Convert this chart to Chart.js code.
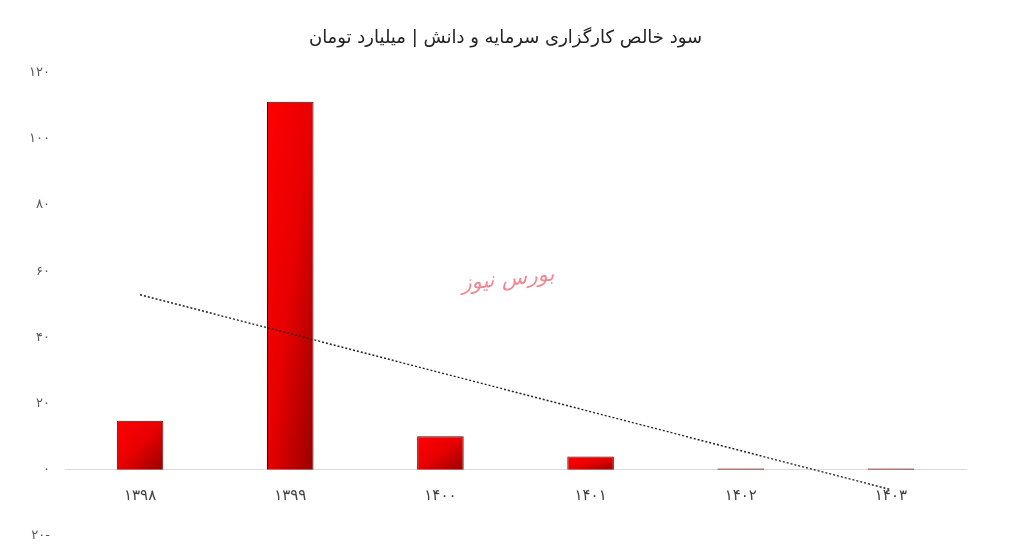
<!DOCTYPE html>
<html>
<head>
<meta charset="utf-8">
<script src="https://cdn.jsdelivr.net/npm/chart.js@4.4.1/dist/chart.umd.min.js"></script>
<style>
  html, body { margin: 0; padding: 0; background: #fff; }
  #wrap { width: 1011px; height: 559px; }
</style>
</head>
<body>
<div id="wrap"><canvas id="c"></canvas></div>
<script>
const years = ["۱۳۹۸", "۱۳۹۹", "۱۴۰۰", "۱۴۰۱", "۱۴۰۲", "۱۴۰۳"];
const profit = [14.8, 111.2, 10.1, 4.0, 0.4, 0.4];
// dotted trend line, read at its two ends
const trend = [52.9, null, null, null, null, -6.0];
const yTicks = [120, 100, 80, 60, 40, 20, 0, -20];

const titleText = "سود خالص کارگزاری سرمایه و دانش | میلیارد تومان";
const markText = "بورس نیوز";

const faDigits = "۰۱۲۳۴۵۶۷۸۹";
function fa(n) {
  const s = String(Math.abs(n)).replace(/\d/g, (d) => faDigits[+d]);
  return n < 0 ? s + "-" : s;
}

const barPct = 0.31;

// corner to corner red gradient per bar (top-left light, bottom-right dark)
function barFill(ctx) {
  const chart = ctx.chart;
  const xs = chart.scales.x;
  const ys = chart.scales.y;
  if (!xs || !ys || ctx.type !== "data") return "#ee0000";
  const cx = xs.getPixelForValue(ctx.dataIndex);
  const w = (xs.width / years.length) * barPct;
  const top = ys.getPixelForValue(ctx.raw);
  const base = ys.getPixelForValue(0);
  if (!isFinite(cx) || !isFinite(top)) return "#ee0000";
  const h = Math.max(base - top, 1);
  const cy = (top + base) / 2;
  const L = Math.sqrt(w * w + h * h);
  const dx = h / L, dy = w / L;
  const r = (w * h) / L;
  const g = chart.ctx.createLinearGradient(cx - dx * r, cy - dy * r, cx + dx * r, cy + dy * r);
  g.addColorStop(0, "#ff0000");
  g.addColorStop(0.5, "#e80000");
  g.addColorStop(1, "#990000");
  return g;
}

const watermark = {
  id: "watermark",
  afterDraw(chart) {
    const ctx = chart.ctx;
    ctx.save();
    ctx.translate(508, 280);
    ctx.rotate(-0.1);
    ctx.font = "italic 21px 'DejaVu Serif', serif";
    ctx.fillStyle = "rgba(232, 96, 110, 0.75)";
    ctx.textAlign = "center";
    ctx.textBaseline = "middle";
    ctx.fillText(markText, 0, 0);
    ctx.restore();
  },
};

new Chart(document.getElementById("c"), {
  type: "bar",
  data: {
    labels: years,
    datasets: [
      {
        type: "bar",
        data: profit,
        backgroundColor: barFill,
        borderColor: "#2a1414",
        borderWidth: 1,
        barPercentage: barPct,
        categoryPercentage: 1,
        order: 2,
      },
      {
        type: "line",
        data: trend,
        spanGaps: true,
        borderColor: "#222",
        borderWidth: 1.4,
        borderDash: [2, 2],
        pointRadius: 0,
        fill: false,
        order: 1,
      },
    ],
  },
  options: {
    responsive: true,
    maintainAspectRatio: false,
    animation: false,
    layout: { padding: { left: 0, right: 0, top: 0, bottom: 23 } },
    plugins: {
      legend: { display: false },
      tooltip: { enabled: false },
      title: {
        display: true,
        text: titleText,
        color: "#222",
        font: { family: "'DejaVu Sans', sans-serif", size: 18, weight: "normal", lineHeight: 1.2 },
        padding: { top: 28, bottom: 23 },
      },
    },
    scales: {
      x: {
        position: { y: 0 },
        grid: { display: false, drawTicks: false },
        border: { display: true, color: "#d9d9d9", width: 1 },
        ticks: {
          color: "#404040",
          padding: 17,
          font: { family: "'DejaVu Sans', sans-serif", size: 15 },
        },
      },
      y: {
        min: -20,
        max: 120,
        afterBuildTicks(scale) {
          scale.ticks = yTicks.map((v) => ({ value: v }));
        },
        afterFit(scale) {
          scale.width = 65;
        },
        grid: { display: false, drawTicks: false },
        border: { display: false },
        ticks: {
          color: "#595959",
          padding: 15,
          font: { family: "'DejaVu Sans', sans-serif", size: 13 },
          callback: (v) => fa(v),
        },
      },
      // empty right margin
      yRight: {
        position: "right",
        min: -20,
        max: 120,
        afterFit(scale) {
          scale.width = 45;
        },
        grid: { display: false, drawTicks: false },
        border: { display: false },
        ticks: { display: false },
      },
    },
  },
  plugins: [watermark],
});
</script>
</body>
</html>
